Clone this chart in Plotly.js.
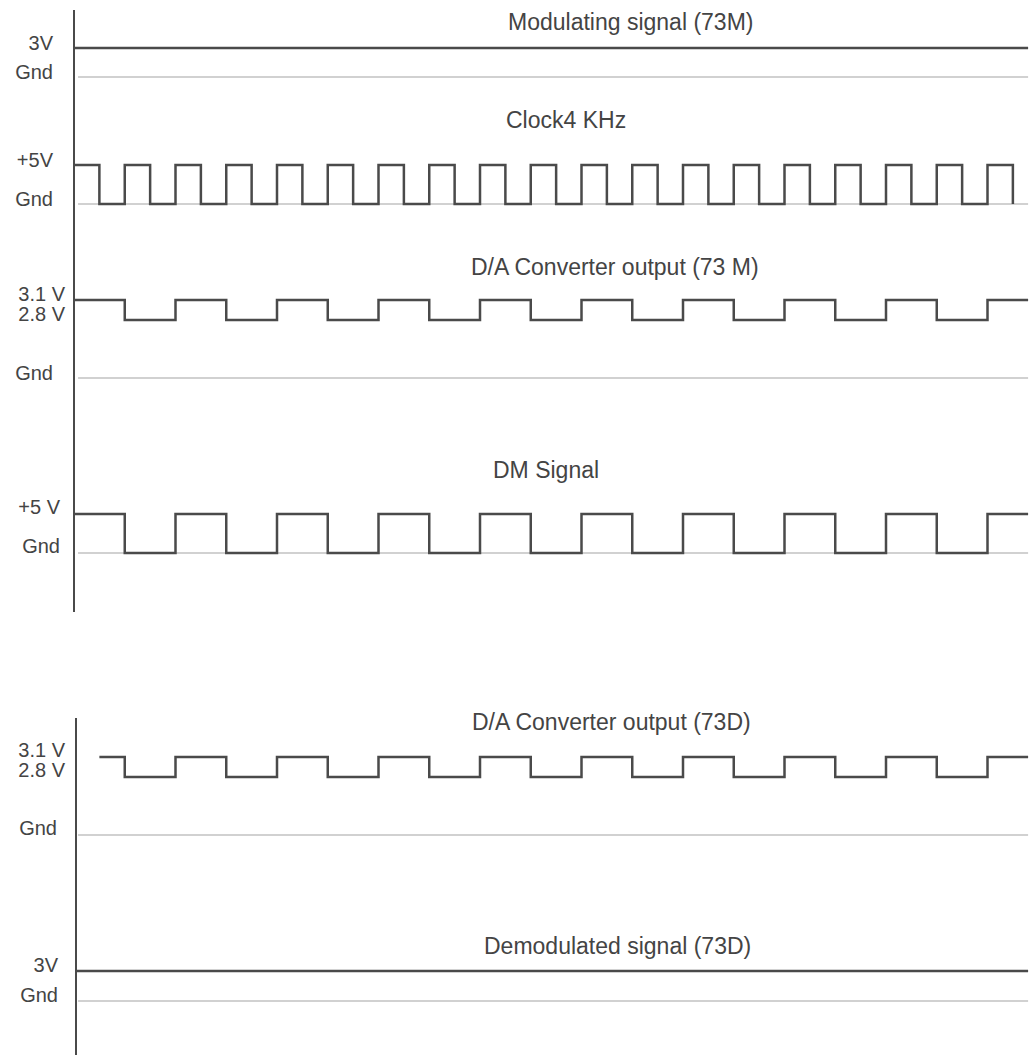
<!DOCTYPE html>
<html>
<head>
<meta charset="utf-8">
<script src="https://cdn.plot.ly/plotly-3.0.1.min.js"></script>
<style>html,body{margin:0;padding:0;background:#fff;}#chart{width:1035px;height:1055px;}</style>
</head>
<body>
<div id="chart"></div>
<script>
// ---------------- DATA (time in clock periods, level in volts) ----------------
const panelTitles = ["Modulating signal (73M)", "Clock4 KHz", "D/A Converter output (73 M)",
                     "DM Signal", "D/A Converter output (73D)", "Demodulated signal (73D)"];

const modT = [0, 18.8];
const modV = [3, 3];

const clockT = [0,0.5,1,1.5,2,2.5,3,3.5,4,4.5,5,5.5,6,6.5,7,7.5,8,8.5,9,9.5,
                10,10.5,11,11.5,12,12.5,13,13.5,14,14.5,15,15.5,16,16.5,17,17.5,18,18.5];
const clockV = [5,0,5,0,5,0,5,0,5,0,5,0,5,0,5,0,5,0,5,0,
                5,0,5,0,5,0,5,0,5,0,5,0,5,0,5,0,5,0];

const daMT = [0,1,2,3,4,5,6,7,8,9,10,11,12,13,14,15,16,17,18,18.8];
const daMV = [3.1,2.8,3.1,2.8,3.1,2.8,3.1,2.8,3.1,2.8,3.1,2.8,3.1,2.8,3.1,2.8,3.1,2.8,3.1,3.1];

const dmT = [0,1,2,3,4,5,6,7,8,9,10,11,12,13,14,15,16,17,18,18.8];
const dmV = [5,0,5,0,5,0,5,0,5,0,5,0,5,0,5,0,5,0,5,5];

const daDT = [0.5,1,2,3,4,5,6,7,8,9,10,11,12,13,14,15,16,17,18,18.8];
const daDV = [3.1,2.8,3.1,2.8,3.1,2.8,3.1,2.8,3.1,2.8,3.1,2.8,3.1,2.8,3.1,2.8,3.1,2.8,3.1,3.1];

const demodT = [0.04, 18.8];
const demodV = [3, 3];

const gndT = [0.08, 18.8];
const gndV = [0, 0];

// tick labels
const modTickVals = [0, 3],     modTickText = ["Gnd", "3V"];
const clkTickVals = [0, 5],     clkTickText = ["Gnd", "+5V"];
const daTickVals  = [2.8, 3.1], daTickText  = ["2.8 V", "3.1 V"];
const gndTickVals = [0],        gndTickText = ["Gnd"];
const dmTickVals  = [0, 5],     dmTickText  = ["Gnd", "+5 V"];
const demTickVals = [0, 3],     demTickText = ["Gnd", "3V"];

// ---------------- LAYOUT HELPERS ----------------
const W = 1035, H = 1055, ML = 74, PX_PER_T = 50.75;
const FONT = "Liberation Sans, Arial, Helvetica, sans-serif";
const TXT = "#444444", SIG = "#4a4a4a", GND = "#a3a3a3";
const LBL = 20;
const py = p => 1 - p / H;
const px = p => (p - ML) / (W - ML);

function levelAxis(top, bottom, vA, pA, vB, pB, vals, text, standoff, shift) {
  const k = (pB - pA) / (vA - vB);
  return {
    domain: [py(bottom), py(top)],
    range: [vB - (bottom - pB) / k, vA + (pA - top) / k],
    anchor: "x", showgrid: false, zeroline: false, showline: false, ticks: "",
    tickmode: "array", tickvals: vals, ticktext: text, fixedrange: true,
    tickfont: {family: FONT, size: LBL, color: TXT},
    ticklabelstandoff: standoff, ticklabelshift: shift
  };
}
function gndAxis(base, top, bottom, pG, standoff, shift) {
  return {
    overlaying: base, side: "left", anchor: "x",
    range: [-(bottom - pG), pG - top],
    showgrid: false, zeroline: false, showline: false, ticks: "",
    tickmode: "array", tickvals: gndTickVals, ticktext: gndTickText, fixedrange: true,
    tickfont: {family: FONT, size: LBL, color: TXT},
    ticklabelstandoff: standoff, ticklabelshift: shift
  };
}

function sig(x, y, ax, step) {
  return {x: x, y: y, yaxis: ax, type: "scatter", mode: "lines", hoverinfo: "skip",
          line: {color: SIG, width: 2.5, shape: step ? "hv" : "linear"}};
}
function gnd(ax) {
  return {x: gndT, y: gndV, yaxis: ax, type: "scatter", mode: "lines", hoverinfo: "skip",
          line: {color: GND, width: 1}};
}

const traces = [
  gnd("y"), gnd("y2"), gnd("y7"), gnd("y4"), gnd("y8"), gnd("y6"),
  sig(modT, modV, "y", false),
  sig(clockT, clockV, "y2", true),
  sig(daMT, daMV, "y3", true),
  sig(dmT, dmV, "y4", true),
  sig(daDT, daDV, "y5", true),
  sig(demodT, demodV, "y6", false)
];

const titlePos = [[630, 22], [566, 120], [615, 267], [546, 470], [611, 722], [617, 946]];
const annotations = panelTitles.map((t, i) => ({
  text: t, xref: "paper", yref: "paper", x: px(titlePos[i][0]), y: py(titlePos[i][1]),
  xanchor: "center", yanchor: "middle", showarrow: false,
  font: {family: FONT, size: 23, color: TXT}
}));

const layout = {
  width: W, height: H,
  margin: {l: ML, r: 0, t: 0, b: 0, pad: 0},
  paper_bgcolor: "#ffffff", plot_bgcolor: "#ffffff",
  showlegend: false,
  xaxis: {range: [0, (W - ML) / PX_PER_T], visible: false, fixedrange: true},
  yaxis:  levelAxis(30, 95, 3, 48, 0, 77, modTickVals, modTickText, 20, -5),
  yaxis2: levelAxis(140, 225, 5, 165, 0, 204, clkTickVals, clkTickText, 20, -5),
  yaxis3: levelAxis(285, 400, 3.1, 300, 2.8, 320, daTickVals, daTickText, 8, -6),
  yaxis4: levelAxis(490, 600, 5, 514, 0, 553, dmTickVals, dmTickText, 13, -7),
  yaxis5: levelAxis(740, 860, 3.1, 757, 2.8, 777, daTickVals, daTickText, 8, -7),
  yaxis6: levelAxis(955, 1040, 3, 971, 0, 1001, demTickVals, demTickText, 15, -6),
  yaxis7: gndAxis("y3", 285, 400, 378, 20, -5),
  yaxis8: gndAxis("y5", 740, 860, 835, 16, -7),
  shapes: [
    {type: "line", xref: "paper", yref: "paper", x0: 0, x1: 0, y0: py(612), y1: py(10),
     line: {color: SIG, width: 2}},
    {type: "line", xref: "paper", yref: "paper", x0: px(76), x1: px(76), y0: py(1055), y1: py(718),
     line: {color: SIG, width: 2}}
  ],
  annotations: annotations
};

Plotly.newPlot("chart", traces, layout, {displayModeBar: false, staticPlot: true});
</script>
</body>
</html>
